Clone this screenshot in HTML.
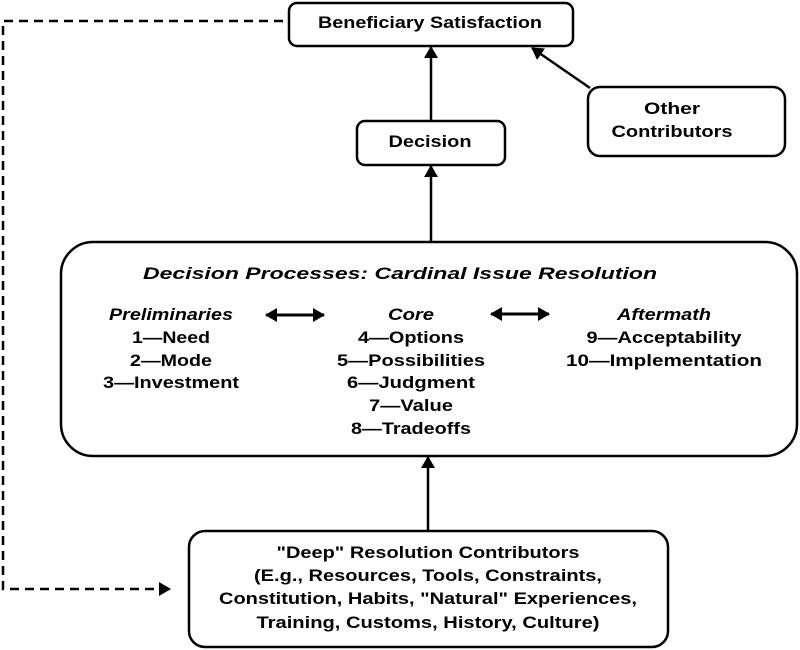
<!DOCTYPE html>
<html><head><meta charset="utf-8"><style>
html,body{margin:0;padding:0;background:#fff;}
svg{display:block}
text{font-family:"Liberation Sans",Arial,sans-serif;font-weight:bold;font-size:17px;fill:#000;text-anchor:middle}
.i{font-style:italic}
</style></head><body>
<svg width="800" height="650" viewBox="0 0 800 650" xmlns="http://www.w3.org/2000/svg">
<defs>
<marker id="b" markerWidth="12" markerHeight="14" refX="11" refY="7" orient="auto" markerUnits="userSpaceOnUse"><path d="M0,0 L12,7 L0,14 z" fill="#000"/></marker>
<marker id="bs" markerWidth="12" markerHeight="14" refX="1" refY="7" orient="auto" markerUnits="userSpaceOnUse"><path d="M12,0 L0,7 L12,14 z" fill="#000"/></marker>
</defs>
<g fill="#fff" stroke="#000" stroke-width="2.5">
<rect x="289" y="3" width="284" height="43" rx="8"/>
<rect x="357" y="121" width="148" height="44" rx="8"/>
<rect x="588" y="87" width="197" height="69" rx="12"/>
<rect x="61" y="242" width="736" height="214" rx="32"/>
<rect x="189" y="531" width="479" height="116" rx="16"/>
</g>
<g stroke="#000" stroke-width="2.5" fill="none">
<line x1="431" y1="120" x2="431" y2="47" marker-end="url(#b)"/>
<line x1="431" y1="241" x2="431" y2="166" marker-end="url(#b)"/>
<line x1="428" y1="530" x2="428" y2="457" marker-end="url(#b)"/>
<line x1="590" y1="88" x2="532" y2="48" marker-end="url(#b)"/>
<line x1="266" y1="315" x2="324" y2="315" marker-start="url(#bs)" marker-end="url(#b)" stroke-width="3"/>
<line x1="491" y1="314" x2="549" y2="314" marker-start="url(#bs)" marker-end="url(#b)" stroke-width="3"/>
<path d="M283,21 H3 V589 H170" stroke-dasharray="9,6" stroke-width="2.5" marker-end="url(#b)"/>
</g>
<text x="430" y="28" textLength="224" lengthAdjust="spacingAndGlyphs">Beneficiary Satisfaction</text>
<text x="430" y="147" textLength="83" lengthAdjust="spacingAndGlyphs">Decision</text>
<text x="672" y="114" textLength="56" lengthAdjust="spacingAndGlyphs">Other</text>
<text x="672" y="137" textLength="121" lengthAdjust="spacingAndGlyphs">Contributors</text>
<text class="i" x="400" y="279" font-size="19" textLength="514" lengthAdjust="spacingAndGlyphs">Decision Processes: Cardinal Issue Resolution</text>
<g font-size="16">
<text class="i" x="171" y="320" textLength="124" lengthAdjust="spacingAndGlyphs">Preliminaries</text>
<text x="171" y="343" textLength="78" lengthAdjust="spacingAndGlyphs">1—Need</text>
<text x="171" y="366" textLength="82" lengthAdjust="spacingAndGlyphs">2—Mode</text>
<text x="171" y="388" textLength="136" lengthAdjust="spacingAndGlyphs">3—Investment</text>
<text class="i" x="411" y="320" textLength="46" lengthAdjust="spacingAndGlyphs">Core</text>
<text x="411" y="343" textLength="106" lengthAdjust="spacingAndGlyphs">4—Options</text>
<text x="411" y="366" textLength="148" lengthAdjust="spacingAndGlyphs">5—Possibilities</text>
<text x="411" y="388" textLength="128" lengthAdjust="spacingAndGlyphs">6—Judgment</text>
<text x="411" y="411" textLength="84" lengthAdjust="spacingAndGlyphs">7—Value</text>
<text x="411" y="434" textLength="120" lengthAdjust="spacingAndGlyphs">8—Tradeoffs</text>
<text class="i" x="664" y="320" textLength="94" lengthAdjust="spacingAndGlyphs">Aftermath</text>
<text x="664" y="343" textLength="155" lengthAdjust="spacingAndGlyphs">9—Acceptability</text>
<text x="664" y="366" textLength="196" lengthAdjust="spacingAndGlyphs">10—Implementation</text>
<text x="428" y="558" textLength="303" lengthAdjust="spacingAndGlyphs">"Deep" Resolution Contributors</text>
<text x="428" y="581" textLength="348" lengthAdjust="spacingAndGlyphs">(E.g., Resources, Tools, Constraints,</text>
<text x="428" y="604" textLength="418" lengthAdjust="spacingAndGlyphs">Constitution, Habits, "Natural" Experiences,</text>
<text x="428" y="628" textLength="343" lengthAdjust="spacingAndGlyphs">Training, Customs, History, Culture)</text>
</g>
</svg>
</body></html>
